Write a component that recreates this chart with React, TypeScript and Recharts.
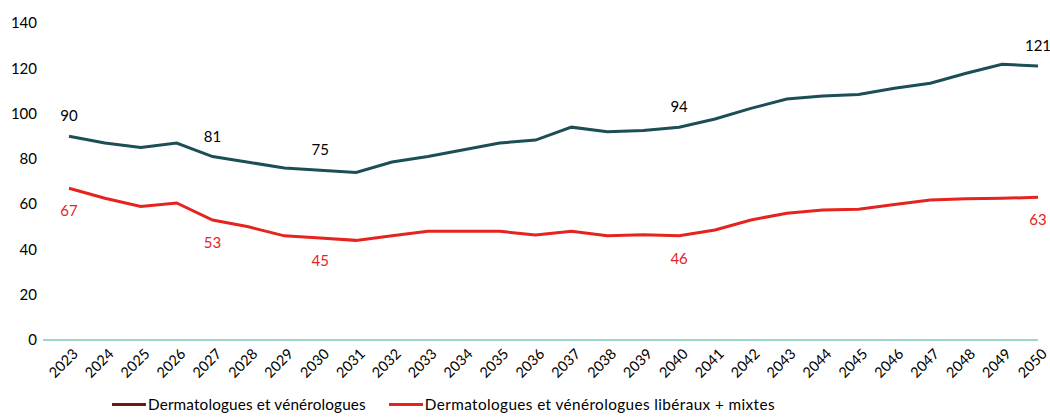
import { Legend, Line, LineChart, XAxis, YAxis } from "recharts"

const years = [
  "2023", "2024", "2025", "2026", "2027", "2028", "2029", "2030", "2031", "2032",
  "2033", "2034", "2035", "2036", "2037", "2038", "2039", "2040", "2041", "2042",
  "2043", "2044", "2045", "2046", "2047", "2048", "2049", "2050",
]

const total = [
  90, 87, 85, 87, 81, 78.5, 76, 75, 74, 78.6,
  81, 84, 87, 88.3, 94, 92, 92.5, 94, 97.6, 102.3,
  106.4, 107.8, 108.4, 111.2, 113.4, 117.8, 121.8, 121,
]

const liberal = [
  67, 62.6, 59, 60.5, 53, 50, 46, 45, 44, 46,
  48, 48, 48, 46.4, 48, 46, 46.5, 46, 48.6, 53,
  56, 57.4, 57.7, 59.8, 61.8, 62.4, 62.6, 63,
]

const labelIdx = [0, 4, 7, 17, 27]
const yTicks = [0, 20, 40, 60, 80, 100, 120, 140]

const seriesNames = ["Dermatologues et vénérologues", "Dermatologues et vénérologues libéraux + mixtes"]
const lineColors = ["#1c4e56", "#e5231f"]
const legendColors = ["#6b1b12", "#e5231f"]
const legendSpacing = [0.15, 0.4]

const data = years.map((year, i) => ({ year, total: total[i], liberal: liberal[i] }))

const FONT = "Lato, 'Open Sans', sans-serif"

function YearTick({ x, y, payload }: any) {
  return (
    <text
      x={x + 6}
      y={y + 3}
      transform={`rotate(-45, ${x + 6}, ${y + 3})`}
      textAnchor="end"
      dominantBaseline="central"
      fontSize={14.5}
      fontFamily={FONT}
      fill="#000"
    >
      {payload.value}
    </text>
  )
}

function makeLabel(color: string, dy: number) {
  return (props: any) => {
    const { x, y, value, index } = props
    if (!labelIdx.includes(index)) return <g key={`l-${index}`} />
    return (
      <text
        key={`l-${index}`}
        x={x}
        y={y + dy}
        textAnchor="middle"
        dominantBaseline="central"
        fontSize={15}
        fontFamily={FONT}
        fill={color}
      >
        {Math.round(value)}
      </text>
    )
  }
}

function LegendContent() {
  return (
    <div
      style={{
        display: "flex",
        justifyContent: "flex-start",
        gap: 23,
        fontFamily: FONT,
        fontSize: 15.3,
        paddingLeft: 112,
        paddingTop: 7,
        lineHeight: "20px",
      }}
    >
      {seriesNames.map((name, i) => (
        <div key={name} style={{ display: "flex", alignItems: "center" }}>
          <span style={{ display: "inline-block", width: 34, height: 3, background: legendColors[i], marginRight: 2 }} />
          <span style={{ color: "#000", letterSpacing: legendSpacing[i] }}>{name}</span>
        </div>
      ))}
    </div>
  )
}

export default function App() {
  return (
    <div style={{ position: "absolute", left: 0, top: 0, width: 1050, height: 417, background: "#fff" }}>
      <LineChart width={1050} height={417} data={data} margin={{ top: 23, right: 12, bottom: 0, left: 0 }}>
        <XAxis
          dataKey="year"
          padding={{ left: 26, right: 0 }}
          tickLine={false}
          axisLine={{ stroke: "#7ccbb8", strokeWidth: 1.5 }}
          tick={<YearTick />}
          interval={0}
          height={47}
        />
        <YAxis
          domain={[0, 140]}
          ticks={yTicks}
          width={43}
          axisLine={false}
          tickLine={false}
          tickMargin={0}
          tick={{ fontSize: 15, fontFamily: FONT, fill: "#000" }}
        />
        <Legend verticalAlign="bottom" height={30} content={<LegendContent />} />
        <Line
          dataKey="total"
          name={seriesNames[0]}
          stroke={lineColors[0]}
          strokeWidth={3}
          dot={false}
          isAnimationActive={false}
          label={makeLabel("#000", -21)}
        />
        <Line
          dataKey="liberal"
          name={seriesNames[1]}
          stroke={lineColors[1]}
          strokeWidth={3}
          dot={false}
          isAnimationActive={false}
          label={makeLabel(lineColors[1], 22)}
        />
      </LineChart>
    </div>
  )
}
